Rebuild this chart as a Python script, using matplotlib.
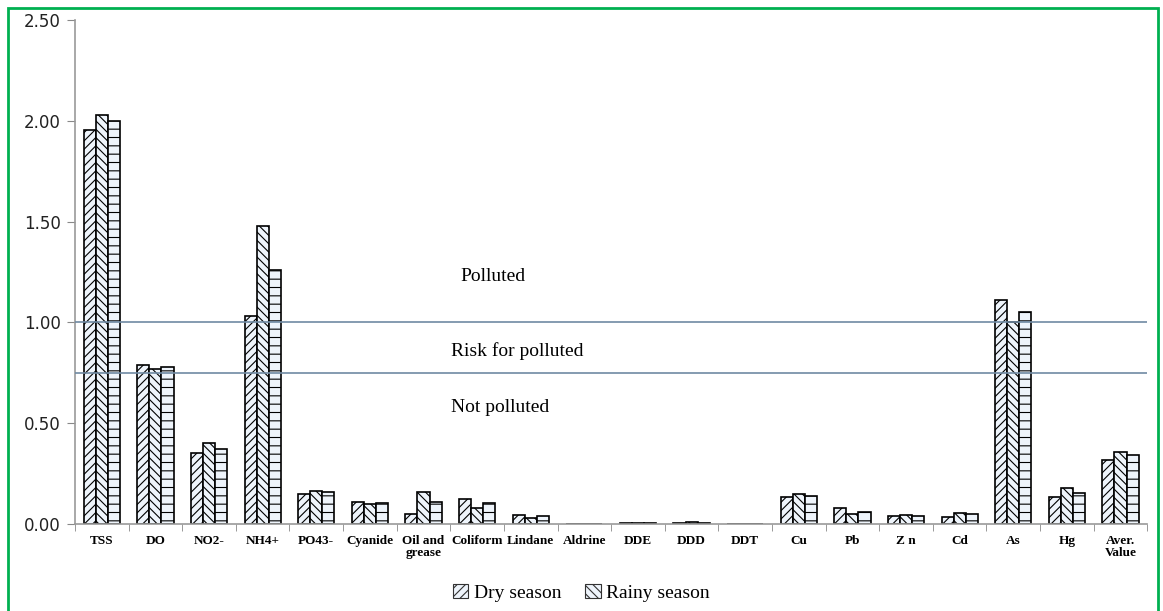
import matplotlib
matplotlib.use("Agg")
import matplotlib.pyplot as plt
import numpy as np
from matplotlib.patches import Rectangle, Patch

categories = ["TSS", "DO", "NO2-", "NH4+", "PO43-", "Cyanide", "Oil and\ngrease",
              "Coliform", "Lindane", "Aldrine", "DDE", "DDD", "DDT", "Cu", "Pb",
              "Z n", "Cd", "As", "Hg", "Aver.\nValue"]
dry_season = [1.955, 0.79, 0.35, 1.03, 0.15, 0.11, 0.05, 0.125, 0.045, 0.0,
              0.005, 0.005, 0.0, 0.135, 0.08, 0.04, 0.035, 1.11, 0.135, 0.32]
rainy_season = [2.03, 0.77, 0.40, 1.48, 0.165, 0.10, 0.16, 0.08, 0.03, 0.0,
                0.005, 0.012, 0.0, 0.15, 0.05, 0.045, 0.055, 1.0, 0.18, 0.355]
third_series = [2.0, 0.78, 0.37, 1.26, 0.16, 0.105, 0.11, 0.105, 0.04, 0.0,
                0.005, 0.005, 0.0, 0.14, 0.06, 0.04, 0.05, 1.05, 0.155, 0.34]
thresholds = [1.0, 0.75]
zone_labels = ["Polluted", "Risk for polluted", "Not polluted"]
zone_x = [7.3, 7.75, 7.43]
zone_y = [1.23, 0.86, 0.58]

plt.rcParams['hatch.linewidth'] = 0.8
plt.rcParams['hatch.color'] = '#8a96a3'

fig = plt.figure(figsize=(11.63, 6.11), dpi=100)
ax = fig.add_axes([0.0645, 0.1424, 0.922, 0.8246])

x = np.arange(len(categories))
w = 0.225
fill = '#eef4fb'
ax.bar(x - w, dry_season, w, color=fill, edgecolor='black', linewidth=1.2, hatch='////', zorder=2)
ax.bar(x, rainy_season, w, color=fill, edgecolor='black', linewidth=1.2, hatch='\\\\\\\\', zorder=2)
ax.bar(x + w, third_series, w, color=fill, edgecolor='black', linewidth=1.2, hatch='--', zorder=2)

for t in thresholds:
    ax.axhline(t, color='#6f8aa3', linewidth=1.2, zorder=3)

serif = ['Liberation Serif', 'DejaVu Serif']
for lab, xx, yy in zip(zone_labels, zone_x, zone_y):
    ax.text(xx, yy, lab, fontsize=14, family=serif, ha='center', va='center')

ax.set_xlim(-0.5, len(categories) - 0.5)
ax.set_ylim(0, 2.5)
ax.set_yticks([0, 0.5, 1.0, 1.5, 2.0, 2.5])
ax.set_yticklabels(["0.00", "0.50", "1.00", "1.50", "2.00", "2.50"], fontsize=12, color='#222222')
ax.set_xticks(x)
ax.set_xticklabels(categories, fontsize=9.5, family=serif, fontweight='bold', va='top', linespacing=1.0)
ax.tick_params(axis='x', length=0, pad=8)
ax.set_xticks(np.arange(-0.5, len(categories), 1.0), minor=True)
ax.tick_params(axis='x', which='minor', length=5, color='#888888', direction='out')
ax.tick_params(axis='y', length=6, color='#888888', direction='out', pad=4)

for s in ['top', 'right']:
    ax.spines[s].set_visible(False)
for s in ['left', 'bottom']:
    ax.spines[s].set_color('#999999')
    ax.spines[s].set_linewidth(1.2)

handles = [Patch(facecolor=fill, edgecolor='#333333', hatch='////', linewidth=0.8),
           Patch(facecolor=fill, edgecolor='#333333', hatch='\\\\\\\\', linewidth=0.8)]
fig.legend(handles, ["Dry season", "Rainy season"], loc='center', bbox_to_anchor=(0.5, 0.03),
           ncol=2, frameon=False, prop={'family': serif, 'size': 14},
           handlelength=0.8, handleheight=0.8, handletextpad=0.3, columnspacing=1.2)

fig.patches.append(Rectangle((8/1163, -0.05), (1158-8)/1163, 1 - 8/611 + 0.05,
                             transform=fig.transFigure, fill=False,
                             edgecolor='#00b050', linewidth=2))

fig.savefig("out.png", dpi=100)
